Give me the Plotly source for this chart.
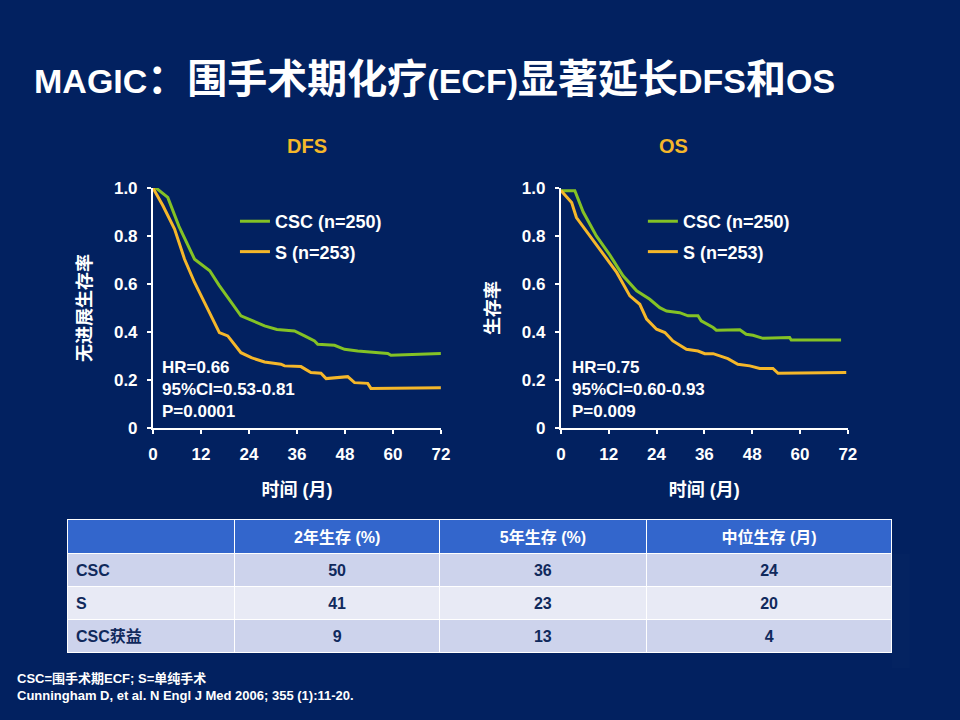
import plotly.graph_objects as go

# 数据：DFS 曲线
dfs_t_csc = [0, 0.8, 3.7, 6.5, 10.4, 14.2, 16.5, 22, 25, 27.9, 31, 35.4, 37.9, 40.4, 41.2, 45.4, 47.9, 51.2, 58.7, 59.5, 72]
dfs_s_csc = [1.0, 1.0, 0.961, 0.84, 0.703, 0.655, 0.595, 0.467, 0.446, 0.425, 0.41, 0.404, 0.383, 0.362, 0.348, 0.344, 0.327, 0.32, 0.31, 0.302, 0.31]
dfs_t_s = [0, 2.5, 5.4, 7.9, 10.4, 12.9, 16.6, 18.7, 22, 24.6, 27.9, 32, 32.9, 37, 39.5, 42, 43.3, 48.7, 50.4, 53.7, 54.5, 72]
dfs_s_s = [1.0, 0.926, 0.829, 0.703, 0.606, 0.522, 0.397, 0.383, 0.313, 0.292, 0.274, 0.265, 0.258, 0.255, 0.23, 0.227, 0.205, 0.213, 0.188, 0.185, 0.164, 0.167]

# 数据：OS 曲线
os_t_csc = [0, 3.5, 5.6, 8.9, 12.3, 15.6, 19, 22.3, 24.8, 26.5, 29.8, 31.9, 34.4, 35.2, 38.2, 39, 44.9, 46.5, 48.2, 50.7, 57.4, 57.8, 70.3]
os_s_csc = [0.989, 0.989, 0.9, 0.8, 0.72, 0.634, 0.571, 0.536, 0.501, 0.487, 0.48, 0.467, 0.467, 0.446, 0.418, 0.407, 0.409, 0.39, 0.386, 0.373, 0.376, 0.366, 0.366]
os_t_s = [0, 2.7, 3.9, 7.3, 11.4, 14, 17.3, 19.8, 21.5, 24, 26.1, 28.1, 31.5, 34.4, 36.1, 38.2, 41.9, 44.4, 47.4, 49.9, 53.2, 54.5, 71.6]
os_s_s = [0.99, 0.94, 0.877, 0.8, 0.703, 0.648, 0.55, 0.515, 0.453, 0.411, 0.397, 0.362, 0.327, 0.32, 0.309, 0.309, 0.288, 0.265, 0.258, 0.247, 0.247, 0.227, 0.23]

# 表格数据
table_groups = ["CSC", "S", "CSC获益"]
two_year = [50, 41, 9]
five_year = [36, 23, 13]
median_os = [24, 20, 4]
table_header = ["", "2年生存 (%)", "5年生存 (%)", "中位生存 (月)"]

x_ticks = [0, 12, 24, 36, 48, 60, 72]
y_ticks = [0, 0.2, 0.4, 0.6, 0.8, 1.0]
y_ticktext = ["0", "0.2", "0.4", "0.6", "0.8", "1.0"]

BG = "#022160"
GREEN = "#84c225"
YELLOW = "#f5b72a"
FONT = "Liberation Sans, Arial, Noto Sans CJK SC, sans-serif"

W, H = 960, 720


# 像素 -> paper 坐标（按截图里测得的偏移做了修正）
def px_x(p):
    return ((p - 5) / 0.9856) / W


def px_y(p):
    return 1 - ((p - 8.7) / 0.975) / H


def cjk(s, size):
    return "<span style='font-size:%dpx'>%s</span>" % (size, s)


fig = go.Figure()

# DFS
fig.add_trace(go.Scatter(x=dfs_t_csc, y=dfs_s_csc, mode="lines", name="CSC (n=250)",
                         line=dict(color=GREEN, width=3), xaxis="x", yaxis="y",
                         legend="legend", legendgroup="a", cliponaxis=False))
fig.add_trace(go.Scatter(x=dfs_t_s, y=dfs_s_s, mode="lines", name="S (n=253)",
                         line=dict(color=YELLOW, width=3), xaxis="x", yaxis="y",
                         legend="legend", legendgroup="b", cliponaxis=False))
# OS
fig.add_trace(go.Scatter(x=os_t_csc, y=os_s_csc, mode="lines", name="CSC (n=250)",
                         line=dict(color=GREEN, width=3), xaxis="x2", yaxis="y2",
                         legend="legend2", legendgroup="c", cliponaxis=False))
fig.add_trace(go.Scatter(x=os_t_s, y=os_s_s, mode="lines", name="S (n=253)",
                         line=dict(color=YELLOW, width=3), xaxis="x2", yaxis="y2",
                         legend="legend2", legendgroup="d", cliponaxis=False))

# 表格
n = len(table_groups)
row_fill = ["#cdd3ec", "#e8eaf5", "#cdd3ec"][:n]
fig.add_trace(go.Table(
    domain=dict(x=[px_x(68), px_x(893)], y=[px_y(670), px_y(520)]),
    columnwidth=[167, 205, 207, 246],
    header=dict(values=["<b>%s</b>" % h for h in table_header],
                fill_color="#3366cc", line=dict(color="white", width=1),
                font=dict(family=FONT, size=16, color="white"),
                align="center", height=32.5),
    cells=dict(values=[["<b>%s</b>" % g for g in table_groups],
                       ["<b>%d</b>" % v for v in two_year],
                       ["<b>%d</b>" % v for v in five_year],
                       ["<b>%d</b>" % v for v in median_os]],
               fill_color=[row_fill] * 4, line=dict(color="white", width=1),
               font=dict(family=FONT, size=16, color="#10295c"),
               align=["left", "center", "center", "center"], height=32.5),
))

axis_common = dict(range=[0, 72], showgrid=False, zeroline=False, showline=True,
                   linecolor="white", linewidth=2, ticks="outside", ticklen=4,
                   tickwidth=2, tickcolor="white", tickvals=x_ticks, ticklabelstandoff=6,
                   tickfont=dict(family=FONT, size=17, color="white", weight="bold"))
yaxis_common = dict(range=[0, 1], showgrid=False, zeroline=False, showline=True,
                    linecolor="white", linewidth=2, ticks="outside", ticklen=4,
                    tickwidth=2, tickcolor="white", tickvals=y_ticks, ticktext=y_ticktext,
                    ticklabelstandoff=6,
                    tickfont=dict(family=FONT, size=17, color="white", weight="bold"))

title_font = dict(family=FONT, size=18, color="white", weight="bold")

fig.update_layout(
    width=W, height=H,
    margin=dict(l=0, r=0, t=0, b=0),
    paper_bgcolor=BG, plot_bgcolor=BG,
    xaxis=dict(domain=[px_x(153), px_x(441)], anchor="y",
               title=dict(text="时间 (月)", font=title_font, standoff=20), **axis_common),
    yaxis=dict(domain=[px_y(428), px_y(188)], anchor="x",
               title=dict(text="无进展生存率", font=title_font, standoff=18), **yaxis_common),
    xaxis2=dict(domain=[px_x(561), px_x(848)], anchor="y2",
                title=dict(text="时间 (月)", font=title_font, standoff=20), **axis_common),
    yaxis2=dict(domain=[px_y(428), px_y(188)], anchor="x2",
                title=dict(text="生存率", font=title_font, standoff=18), **yaxis_common),
    legend=dict(x=px_x(235), y=px_y(203), xanchor="left", yanchor="top",
                bgcolor="rgba(0,0,0,0)", tracegroupgap=4, traceorder="grouped",
                font=dict(family=FONT, size=18, color="white", weight="bold")),
    legend2=dict(x=px_x(643), y=px_y(203), xanchor="left", yanchor="top",
                 bgcolor="rgba(0,0,0,0)", tracegroupgap=4, traceorder="grouped",
                 font=dict(family=FONT, size=18, color="white", weight="bold")),
)

title_text = ("MAGIC" + cjk("：", 40) + cjk("围手术期化疗", 40) + "(ECF)" + cjk("显著延长", 40)
              + "DFS" + cjk("和", 40) + "OS")

ann_font = dict(family=FONT, size=17, color="white", weight="bold")
annotations = [
    dict(text=title_text, x=px_x(32), y=px_y(79),
         xanchor="left", yanchor="middle",
         font=dict(family=FONT, size=34, color="white", weight="bold")),
    dict(text="DFS", x=px_x(307), y=px_y(146), xanchor="center", yanchor="middle",
         font=dict(family=FONT, size=20, color=YELLOW, weight="bold")),
    dict(text="OS", x=px_x(674), y=px_y(146), xanchor="center", yanchor="middle",
         font=dict(family=FONT, size=20, color=YELLOW, weight="bold")),
    dict(text="HR=0.66<br>95%CI=0.53-0.81<br>P=0.0001", x=px_x(160), y=px_y(390),
         xanchor="left", yanchor="middle", align="left", font=ann_font),
    dict(text="HR=0.75<br>95%CI=0.60-0.93<br>P=0.009", x=px_x(570), y=px_y(390),
         xanchor="left", yanchor="middle", align="left", font=ann_font),
    dict(text="CSC=围手术期ECF; S=单纯手术<br>Cunningham D, et al. N Engl J Med 2006; 355 (1):11-20.",
         x=px_x(15), y=px_y(688), xanchor="left", yanchor="middle", align="left",
         font=dict(family=FONT, size=13, color="white", weight="bold")),
]
for a in annotations:
    a.update(xref="paper", yref="paper", showarrow=False)
fig.update_layout(annotations=annotations)

# 页面：去掉默认边距，图固定在左上角
page_js = (
    "document.body.style.margin='0';"
    "document.body.style.background='%s';"
    "var d=document.getElementById('{plot_id}');"
    "d.style.position='fixed';d.style.left='0px';d.style.top='0px';" % BG
)
fig.write_html("out.html", config={"displayModeBar": False}, post_script=page_js)
